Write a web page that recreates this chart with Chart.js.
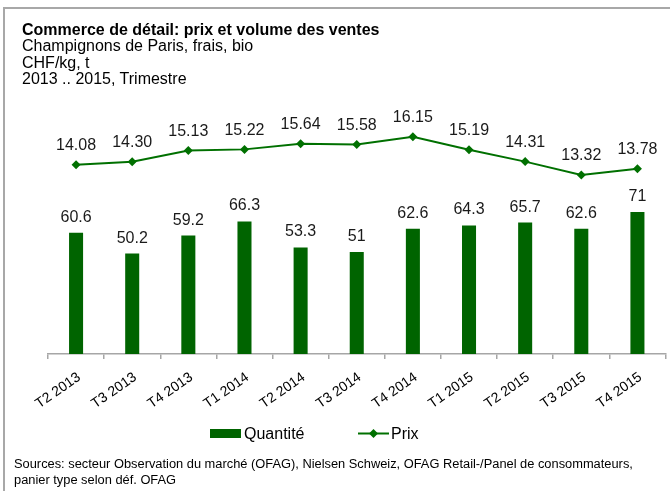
<!DOCTYPE html>
<html><head><meta charset="utf-8">
<script src="https://cdn.jsdelivr.net/npm/chart.js@4"></script>
<style>
body{margin:0;background:#fff;font-family:"Liberation Sans",Arial,sans-serif;}
#wrap{position:relative;width:670px;height:491px;overflow:hidden;background:#fff;}
#frame{position:absolute;left:3px;top:7px;width:720px;height:520px;border-left:2px solid #a8a8a8;border-top:2px solid #a8a8a8;box-sizing:border-box;}
#title{position:absolute;left:22px;top:21.9px;font-size:16px;line-height:16.5px;color:#000;white-space:nowrap;}
#title b{font-weight:bold;}
#src{position:absolute;left:14px;top:456px;font-size:12.85px;line-height:16px;color:#000;white-space:nowrap;}
canvas{position:absolute;left:0;top:0;}
</style></head>
<body>
<div id="wrap">
<div id="frame"></div>
<canvas id="c" width="670" height="491"></canvas>
<div id="title"><b>Commerce de détail: prix et volume des ventes</b><br>Champignons de Paris, frais, bio<br>CHF/kg, t<br>2013 .. 2015, Trimestre</div>
<div id="src">Sources: secteur Observation du marché (OFAG), Nielsen Schweiz, OFAG Retail-/Panel de consommateurs,<br>panier type selon déf. OFAG</div>
</div>
<script>
const categories = ['T2 2013','T3 2013','T4 2013','T1 2014','T2 2014','T3 2014','T4 2014','T1 2015','T2 2015','T3 2015','T4 2015'];
const quantite = [60.6, 50.2, 59.2, 66.3, 53.3, 51, 62.6, 64.3, 65.7, 62.6, 71];
const prix = [14.08, 14.30, 15.13, 15.22, 15.64, 15.58, 16.15, 15.19, 14.31, 13.32, 13.78];
const seriesNames = ['Quantité', 'Prix'];

const FONT = '"Liberation Sans", Arial, sans-serif';
const BAR_COLOR = '#006400';
const LINE_COLOR = '#007000';

const labelPlugin = {
  id: 'valueLabels',
  afterDatasetsDraw(chart) {
    const ctx = chart.ctx;
    ctx.save();
    ctx.font = '16px ' + FONT;
    ctx.fillStyle = '#1a1a1a';
    ctx.textAlign = 'center';
    ctx.textBaseline = 'alphabetic';
    chart.data.datasets.forEach((ds, i) => {
      const meta = chart.getDatasetMeta(i);
      meta.data.forEach((el, j) => {
        const v = ds.data[j];
        if (ds.type === 'line') {
          ctx.fillText(v.toFixed(2), el.x, el.y - 14.5);
        } else {
          ctx.fillText(String(v), el.x, el.y - 11);
        }
      });
    });
    ctx.restore();
  }
};

const legendPlugin = {
  id: 'customLegend',
  afterDraw(chart) {
    const ctx = chart.ctx;
    ctx.save();
    ctx.font = '16px ' + FONT;
    ctx.textBaseline = 'alphabetic';
    ctx.textAlign = 'left';
    ctx.fillStyle = BAR_COLOR;
    ctx.fillRect(210, 429, 31, 9);
    ctx.fillStyle = '#000';
    ctx.fillText(seriesNames[0], 244, 439);
    ctx.strokeStyle = LINE_COLOR;
    ctx.lineWidth = 2;
    ctx.beginPath();
    ctx.moveTo(358, 433.5); ctx.lineTo(389, 433.5); ctx.stroke();
    ctx.fillStyle = LINE_COLOR;
    ctx.beginPath();
    ctx.moveTo(373.5 - 4.5, 433.5); ctx.lineTo(373.5, 429); ctx.lineTo(373.5 + 4.5, 433.5); ctx.lineTo(373.5, 438);
    ctx.closePath(); ctx.fill();
    ctx.fillStyle = '#000';
    ctx.fillText(seriesNames[1], 391, 439);
    ctx.restore();
  }
};

new Chart(document.getElementById('c'), {
  type: 'bar',
  data: {
    labels: categories,
    datasets: [
      { type: 'line', label: seriesNames[1], data: prix, yAxisID: 'yP',
        borderColor: LINE_COLOR, backgroundColor: LINE_COLOR, borderWidth: 2,
        pointStyle: 'rectRot', pointRadius: 4.5, pointBorderWidth: 0, tension: 0, order: 0 },
      { type: 'bar', label: seriesNames[0], data: quantite, yAxisID: 'yQ',
        backgroundColor: BAR_COLOR, barPercentage: 0.25, categoryPercentage: 1, order: 1 }
    ]
  },
  options: {
    responsive: false,
    animation: false,
    layout: { padding: { left: 48, right: 0, top: 112, bottom: 0 } },
    plugins: { legend: { display: false }, tooltip: { enabled: false }, title: { display: false } },
    scales: {
      x: {
        offset: true,
        grid: { display: true, drawOnChartArea: false, drawTicks: true, tickLength: 5, color: '#a6a6a6', offset: true, lineWidth: 1.5 },
        border: { display: true, color: '#a6a6a6', width: 1.5 },
        ticks: { minRotation: 35, maxRotation: 35, color: '#000', font: { size: 14, family: FONT }, padding: 10, labelOffset: 3, autoSkip: false },
        afterFit(s) { s.height = 137; }
      },
      yQ: { display: false, min: 0, max: 121 },
      yP: { display: false, min: 0, max: 18 }
    }
  },
  plugins: [labelPlugin, legendPlugin]
});
</script>
</body></html>
